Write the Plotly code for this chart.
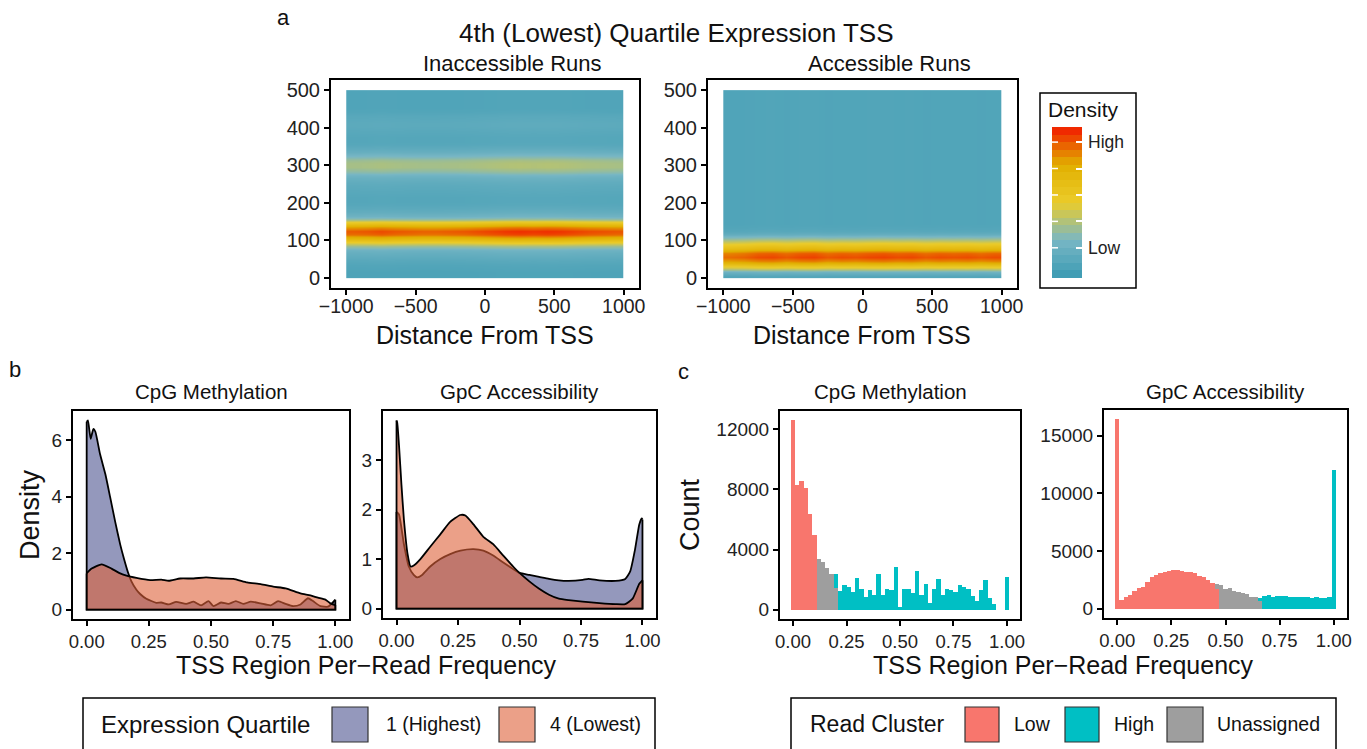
import plotly.graph_objects as go

W, H = 1367, 749
FONT = "Liberation Sans, Arial, sans-serif"

def px(x):
    return x / W

def py(y):
    return 1 - y / H

# ---------------- Panel a: heatmaps (2D density of run length vs distance) ----
heat_x_edges = [-1000, -900, -800, -700, -600, -500, -400, -300, -200, -100, 0,
                100, 200, 300, 400, 500, 600, 700, 800, 900, 1000]
heat_y_edges = [0, 10, 20, 30, 40, 50, 60, 70, 80, 90, 100, 110, 120, 130, 140, 150,
                160, 170, 180, 190, 200, 210, 220, 230, 240, 250, 260, 270, 280, 290,
                300, 310, 320, 330, 340, 350, 360, 370, 380, 390, 400, 410, 420, 430,
                440, 450, 460, 470, 480, 490, 500]
# density profile along run length (one value per 10-unit row), relative scale 0-1
inacc_profile = [0.08, 0.08, 0.09, 0.10, 0.12, 0.15, 0.18, 0.22, 0.33, 0.52,
                 0.72, 0.88, 0.92, 0.80, 0.58, 0.34, 0.22, 0.17, 0.14, 0.12,
                 0.11, 0.11, 0.12, 0.13, 0.14, 0.16, 0.19, 0.24, 0.31, 0.36,
                 0.36, 0.33, 0.26, 0.19, 0.15, 0.12, 0.11, 0.11, 0.12, 0.13,
                 0.14, 0.14, 0.13, 0.12, 0.10, 0.09, 0.09, 0.09, 0.09, 0.09]
inacc_xmod = [0.97, 0.98, 1.00, 0.98, 0.97, 0.96, 0.96, 0.97, 0.98, 1.00,
              1.02, 1.04, 1.05, 1.04, 1.05, 1.04, 1.02, 1.00, 0.99, 0.98]
acc_profile = [0.10, 0.20, 0.45, 0.62, 0.80, 0.90, 0.86, 0.70, 0.58, 0.45,
               0.30, 0.18, 0.12, 0.10, 0.09, 0.09, 0.09, 0.09, 0.09, 0.09,
               0.09, 0.09, 0.09, 0.09, 0.09, 0.09, 0.09, 0.09, 0.09, 0.09,
               0.09, 0.09, 0.09, 0.09, 0.09, 0.09, 0.09, 0.09, 0.09, 0.09,
               0.09, 0.09, 0.09, 0.09, 0.09, 0.09, 0.09, 0.09, 0.09, 0.09]
acc_xmod = [0.96, 0.98, 1.02, 1.03, 1.00, 1.03, 1.04, 1.00, 1.02, 1.01,
            1.03, 1.04, 1.02, 1.03, 1.00, 1.02, 1.01, 1.02, 1.00, 1.02]

zissou = [[0.0, "#3B9AB2"], [0.25, "#78B7C5"], [0.5, "#EBCC2A"],
          [0.75, "#E1AF00"], [1.0, "#F21A00"]]

# colour-bar legend: 20 steps
cbar_edges = [0.0, 0.05, 0.1, 0.15, 0.2, 0.25, 0.3, 0.35, 0.4, 0.45, 0.5,
              0.55, 0.6, 0.65, 0.7, 0.75, 0.8, 0.85, 0.9, 0.95, 1.0]
cbar_levels = [0.025, 0.075, 0.125, 0.175, 0.225, 0.275, 0.325, 0.375, 0.425, 0.475,
               0.525, 0.575, 0.625, 0.675, 0.725, 0.775, 0.825, 0.875, 0.925, 0.975]
cbar_ticks = [0.2, 0.375, 0.55, 0.725, 0.9]
cbar_labels = ["Low", "", "", "", "High"]

def grid(profile, xmod):
    return [[min(1.0, p * m) for m in xmod] for p in profile]

# ---------------- Panel b: densities ----------------
cpg_q1_x = [0, 0.005, 0.016, 0.027, 0.035, 0.054, 0.075, 0.094, 0.115, 0.135, 0.15,
            0.165, 0.18, 0.2, 0.215, 0.24, 0.28, 0.30, 0.33, 0.36, 0.40, 0.43, 0.46,
            0.49, 0.51, 0.54, 0.57, 0.60, 0.63, 0.66, 0.70, 0.74, 0.77, 0.80, 0.83,
            0.86, 0.89, 0.91, 0.94, 0.97, 0.99, 1.00]
cpg_q1_y = [6.65, 6.7, 6.05, 6.4, 6.3, 5.5, 4.8, 4.0, 3.1, 2.3, 1.8, 1.35, 1.0, 0.7,
            0.55, 0.38, 0.24, 0.25, 0.18, 0.27, 0.2, 0.28, 0.15, 0.3, 0.12, 0.25, 0.2,
            0.3, 0.2, 0.28, 0.22, 0.15, 0.3, 0.2, 0.12, 0.18, 0.4, 0.3, 0.12, 0.1,
            0.25, 0.35]
cpg_q4_x = [0, 0.02, 0.06, 0.1, 0.13, 0.16, 0.2, 0.255, 0.3, 0.33, 0.376, 0.43, 0.48,
            0.54, 0.59, 0.645, 0.7, 0.75, 0.8, 0.86, 0.9, 0.93, 0.96, 0.98, 1.0]
cpg_q4_y = [1.28, 1.45, 1.6, 1.45, 1.3, 1.2, 1.12, 1.04, 1.06, 1.02, 1.1, 1.1, 1.14,
            1.1, 1.09, 0.96, 0.9, 0.81, 0.75, 0.57, 0.5, 0.42, 0.35, 0.22, 0.16]
gpc_q1_x = [0, 0.01, 0.03, 0.05, 0.07, 0.084, 0.104, 0.137, 0.178, 0.218, 0.26, 0.313,
            0.353, 0.393, 0.434, 0.474, 0.5, 0.54, 0.58, 0.62, 0.66, 0.7, 0.757, 0.78,
            0.825, 0.89, 0.93, 0.95, 0.97, 0.987, 0.997, 1.0]
gpc_q1_y = [1.95, 1.9, 1.3, 0.85, 0.68, 0.63, 0.68, 0.85, 1.0, 1.1, 1.17, 1.2, 1.17,
            1.07, 0.93, 0.8, 0.72, 0.68, 0.64, 0.6, 0.57, 0.56, 0.58, 0.6, 0.57, 0.56,
            0.6, 0.75, 1.2, 1.7, 1.82, 1.8]
gpc_q4_x = [0, 0.003, 0.01, 0.02, 0.03, 0.045, 0.057, 0.07, 0.097, 0.137, 0.178, 0.218,
            0.259, 0.28, 0.313, 0.353, 0.393, 0.434, 0.474, 0.5, 0.54, 0.58, 0.62, 0.66,
            0.7, 0.757, 0.825, 0.89, 0.93, 0.96, 0.987, 1.0]
gpc_q4_y = [3.8, 3.75, 3.3, 2.5, 1.8, 1.1, 0.85, 0.87, 1.0, 1.25, 1.5, 1.75, 1.89, 1.88,
            1.7, 1.45, 1.3, 1.07, 0.85, 0.72, 0.55, 0.4, 0.28, 0.2, 0.17, 0.14, 0.11,
            0.09, 0.09, 0.2, 0.5, 0.57]

q1_fill = "rgba(77,83,143,0.6)"
q4_fill = "rgba(222,97,57,0.6)"
q1_key = "#9498BC"
q4_key = "#EBA088"

# ---------------- Panel c: histograms ----------------
bin_centers = [0.00, 0.02, 0.04, 0.06, 0.08, 0.10, 0.12, 0.14, 0.16, 0.18, 0.20,
               0.22, 0.24, 0.26, 0.28, 0.30, 0.32, 0.34, 0.36, 0.38, 0.40,
               0.42, 0.44, 0.46, 0.48, 0.50, 0.52, 0.54, 0.56, 0.58, 0.60,
               0.62, 0.64, 0.66, 0.68, 0.70, 0.72, 0.74, 0.76, 0.78, 0.80,
               0.82, 0.84, 0.86, 0.88, 0.90, 0.92, 0.94, 0.96, 0.98, 1.00]
cpg_low = [12600, 8300, 8550, 8100, 6400, 5000, 0, 0, 0, 0, 0,
           0, 0, 0, 0, 0, 0, 0, 0, 0, 0,
           0, 0, 0, 0, 0, 0, 0, 0, 0, 0,
           0, 0, 0, 0, 0, 0, 0, 0, 0, 0,
           0, 0, 0, 0, 0, 0, 0, 0, 0, 0]
cpg_unassigned = [0, 0, 0, 0, 0, 0, 3350, 3150, 2800, 2400, 1450,
                  0, 0, 0, 0, 0, 0, 0, 0, 0, 0,
                  0, 0, 0, 0, 0, 0, 0, 0, 0, 0,
                  0, 0, 0, 0, 0, 0, 0, 0, 0, 0,
                  0, 0, 0, 0, 0, 0, 0, 0, 0, 0]
cpg_high = [0, 0, 0, 0, 0, 0, 0, 0, 0, 0, 950,
            1250, 1650, 1500, 1150, 2100, 1350, 850, 1300, 950, 2400,
            1000, 1350, 1300, 2850, 150, 1350, 1350, 1100, 2550, 950,
            1700, 450, 1400, 2050, 1000, 1400, 1300, 1150, 1650, 1500,
            1350, 900, 600, 1300, 2000, 750, 350, 0, 0, 2150]
gpc_low = [16400, 750, 1040, 1200, 1560, 1800, 1900, 2280, 2770, 2950, 3090,
           3200, 3300, 3380, 3380, 3300, 3150, 3200, 3060, 2860, 2720,
           2490, 2220, 1700, 0, 0, 0, 0, 0, 0, 0,
           0, 0, 0, 0, 0, 0, 0, 0, 0, 0,
           0, 0, 0, 0, 0, 0, 0, 0, 0, 0]
gpc_unassigned = [0, 0, 0, 0, 0, 0, 0, 0, 0, 0, 0,
                  0, 0, 0, 0, 0, 0, 0, 0, 0, 0,
                  0, 0, 450, 2000, 1700, 1760, 1560, 1420, 1330, 1270,
                  1040, 980, 650, 0, 0, 0, 0, 0, 0, 0,
                  0, 0, 0, 0, 0, 0, 0, 0, 0, 0]
gpc_high = [0, 0, 0, 0, 0, 0, 0, 0, 0, 0, 0,
            0, 0, 0, 0, 0, 0, 0, 0, 0, 0,
            0, 0, 0, 0, 0, 0, 0, 0, 0, 0,
            0, 0, 300, 1130, 1180, 1040, 1070, 1100, 1100, 1000,
            1040, 980, 1040, 980, 950, 980, 920, 900, 980, 12000]
col_low = "#F8766D"
col_high = "#00BFC4"
col_unas = "#9E9E9E"

fig = go.Figure()

# heatmaps
fig.add_trace(go.Heatmap(x=heat_x_edges, y=heat_y_edges, z=grid(inacc_profile, inacc_xmod),
                         colorscale=zissou, zmin=0, zmax=1, zsmooth="best",
                         showscale=False, xaxis="x", yaxis="y", hoverinfo="skip"))
fig.add_trace(go.Heatmap(x=heat_x_edges, y=heat_y_edges, z=grid(acc_profile, acc_xmod),
                         colorscale=zissou, zmin=0, zmax=1, zsmooth="best",
                         showscale=False, xaxis="x2", yaxis="y2", hoverinfo="skip"))
# colour bar drawn as its own small stepped heatmap
fig.add_trace(go.Heatmap(x=[0, 1], y=cbar_edges, z=[[v] for v in cbar_levels],
                         colorscale=zissou, zmin=0, zmax=1, showscale=False,
                         xaxis="x7", yaxis="y7", hoverinfo="skip"))

# densities: filled curve, then the polygon edges (left, baseline, right)
for (xs, ys, fc, ax) in [(cpg_q1_x, cpg_q1_y, q1_fill, "3"), (cpg_q4_x, cpg_q4_y, q4_fill, "3"),
                         (gpc_q1_x, gpc_q1_y, q1_fill, "4"), (gpc_q4_x, gpc_q4_y, q4_fill, "4")]:
    fig.add_trace(go.Scatter(x=xs, y=ys, mode="lines", fill="tozeroy", fillcolor=fc,
                             line=dict(color="black", width=1.8, shape="spline", smoothing=0.5),
                             xaxis="x" + ax, yaxis="y" + ax, showlegend=False,
                             hoverinfo="skip"))
    fig.add_trace(go.Scatter(x=[xs[0], xs[0], xs[-1], xs[-1]], y=[ys[0], 0, 0, ys[-1]],
                             mode="lines", line=dict(color="black", width=1.8),
                             xaxis="x" + ax, yaxis="y" + ax, showlegend=False,
                             hoverinfo="skip"))

for (vals, col, ax) in [(cpg_low, col_low, "5"), (cpg_unassigned, col_unas, "5"),
                        (cpg_high, col_high, "5"), (gpc_low, col_low, "6"),
                        (gpc_unassigned, col_unas, "6"), (gpc_high, col_high, "6")]:
    fig.add_trace(go.Bar(x=bin_centers, y=vals, width=0.02, marker=dict(color=col, line=dict(width=0)),
                         xaxis="x" + ax, yaxis="y" + ax, showlegend=False, hoverinfo="skip"))

def box(l, r, t, b):
    return [px(l), px(r)], [py(b), py(t)]

axis_common = dict(showline=True, linecolor="black", linewidth=2, mirror=True,
                   ticks="outside", ticklen=5, tickwidth=1.5, tickcolor="black",
                   showgrid=False, zeroline=False, automargin=False, fixedrange=True)

def xa(dom, rng, vals, texts, size, standoff=0):
    d = dict(axis_common)
    d.update(domain=dom, range=rng, tickvals=vals, ticktext=texts,
             ticklabelstandoff=standoff,
             tickfont=dict(size=size, color="#222", family=FONT))
    return d

heat_xt = [-1000, -500, 0, 500, 1000]
heat_xl = ["\u22121000", "\u2212500", "0", "500", "1000"]
heat_yt = [0, 100, 200, 300, 400, 500]
heat_yl = ["0", "100", "200", "300", "400", "500"]
fr_t = [0, 0.25, 0.5, 0.75, 1.0]
fr_l = ["0.00", "0.25", "0.50", "0.75", "1.00"]

x1, y1 = box(331, 639, 80, 288)
x2, y2 = box(708, 1017, 80, 288)
x3, y3 = box(73, 349, 411, 619)
x4, y4 = box(383, 656, 411, 618)
x5, y5 = box(780, 1020, 411, 619)
x6, y6 = box(1104, 1347, 410, 618)
x7, y7 = box(1052, 1082, 127, 278)

fig.update_layout(
    template="none",
    xaxis=dict(xa(x1, [-1110, 1110], heat_xt, heat_xl, 19.5, -5), anchor="y"),
    yaxis=dict(xa(y1, [-27, 527], heat_yt, heat_yl, 20), anchor="x"),
    xaxis2=dict(xa(x2, [-1110, 1110], heat_xt, heat_xl, 19.5, -5), anchor="y2"),
    yaxis2=dict(xa(y2, [-27, 527], heat_yt, heat_yl, 20), anchor="x2"),
    xaxis3=dict(xa(x3, [-0.055, 1.055], fr_t, fr_l, 18.5), anchor="y3"),
    yaxis3=dict(xa(y3, [-0.335, 7.035], [0, 2, 4, 6], ["0", "2", "4", "6"], 19), anchor="x3"),
    xaxis4=dict(xa(x4, [-0.055, 1.055], fr_t, fr_l, 18.5), anchor="y4"),
    yaxis4=dict(xa(y4, [-0.19, 3.99], [0, 1, 2, 3], ["0", "1", "2", "3"], 19), anchor="x4"),
    xaxis5=dict(xa(x5, [-0.061, 1.061], fr_t, fr_l, 18.5), anchor="y5"),
    yaxis5=dict(xa(y5, [-630, 13230], [0, 4000, 8000, 12000], ["0", "4000", "8000", "12000"], 19), anchor="x5"),
    xaxis6=dict(xa(x6, [-0.061, 1.061], fr_t, fr_l, 18.5), anchor="y6"),
    yaxis6=dict(xa(y6, [-820, 17220], [0, 5000, 10000, 15000], ["0", "5000", "10000", "15000"], 19), anchor="x6"),
    xaxis7=dict(domain=x7, range=[0, 1], anchor="y7", showline=False, showticklabels=False,
                ticks="", showgrid=False, zeroline=False, automargin=False, fixedrange=True),
    yaxis7=dict(domain=y7, range=[0, 1], anchor="x7", side="right", showline=False,
                tickvals=cbar_ticks, ticktext=cbar_labels, ticks="inside", ticklen=6,
                tickwidth=1.5, tickcolor="white", showgrid=False, zeroline=False,
                automargin=False, fixedrange=True, ticklabelstandoff=5,
                tickfont=dict(size=17.5, color="#222", family=FONT)),
    barmode="stack", bargap=0,
    width=W, height=H, margin=dict(l=0, r=0, t=0, b=0, pad=0),
    paper_bgcolor="white", plot_bgcolor="white",
    font=dict(family=FONT, color="#111"),
    showlegend=False,
)

ann = []
def text(x, y, s, size, anchor="center", angle=0, color="#111"):
    ann.append(dict(x=px(x), y=py(y), xref="paper", yref="paper", text=s, showarrow=False,
                    xanchor=anchor, yanchor="middle", textangle=angle,
                    font=dict(size=size, family=FONT, color=color)))

text(283, 18, "a", 22)
text(676, 33, "4th (Lowest) Quartile Expression TSS", 26)
text(512, 63, "Inaccessible Runs", 22)
text(889, 63, "Accessible Runs", 22)
text(485, 335, "Distance From TSS", 25)
text(862, 335, "Distance From TSS", 25)
text(1046, 110, "Density", 21, anchor="left")
text(15, 370, "b", 22)
text(683, 372, "c", 22)
text(211, 391, "CpG Methylation", 20.5)
text(519, 391, "GpC Accessibility", 20.5)
text(890, 391, "CpG Methylation", 20.5)
text(1225, 391, "GpC Accessibility", 20.5)
text(30, 515, "Density", 27, angle=-90)
text(690, 515, "Count", 27, angle=-90)
text(366, 665, "TSS Region Per\u2212Read Frequency", 25)
text(1063, 665, "TSS Region Per\u2212Read Frequency", 25)

# bottom legends
text(99, 724, "Expression Quartile", 24, anchor="left")
text(384, 724, "1 (Highest)", 19.5, anchor="left")
text(548, 724, "4 (Lowest)", 19.5, anchor="left")
text(808, 724, "Read Cluster", 23, anchor="left")
text(1012, 724, "Low", 19.5, anchor="left")
text(1112, 724, "High", 19.5, anchor="left")
text(1215, 724, "Unassigned", 19.5, anchor="left")

shapes = []
def rect(l, t, r, b, fill="rgba(0,0,0,0)", lc="black", lw=1.5):
    shapes.append(dict(type="rect", xref="paper", yref="paper", x0=px(l), x1=px(r),
                       y0=py(b), y1=py(t), fillcolor=fill, line=dict(color=lc, width=lw)))

rect(1040, 93, 1136, 288)
rect(83, 698, 655, 770)
rect(332, 707, 368, 742, fill=q1_key, lc="#333", lw=1.2)
rect(499, 707, 535, 742, fill=q4_key, lc="#333", lw=1.2)
rect(791, 698, 1336, 770)
rect(965, 707, 999, 742, fill=col_low, lc="#333", lw=1.2)
rect(1065, 707, 1099, 742, fill=col_high, lc="#333", lw=1.2)
rect(1167, 707, 1203, 742, fill=col_unas, lc="#333", lw=1.2)
# left-edge tick dashes of the colour bar
for t in cbar_ticks:
    shapes.append(dict(type="line", xref="x7", yref="y7", x0=0, x1=0.2, y0=t, y1=t,
                       line=dict(color="white", width=1.5)))

fig.update_layout(annotations=ann, shapes=shapes)
fig.write_html("out.html", config={"displayModeBar": False},
               post_script="document.body.style.margin='0';document.body.style.overflow='hidden';")
